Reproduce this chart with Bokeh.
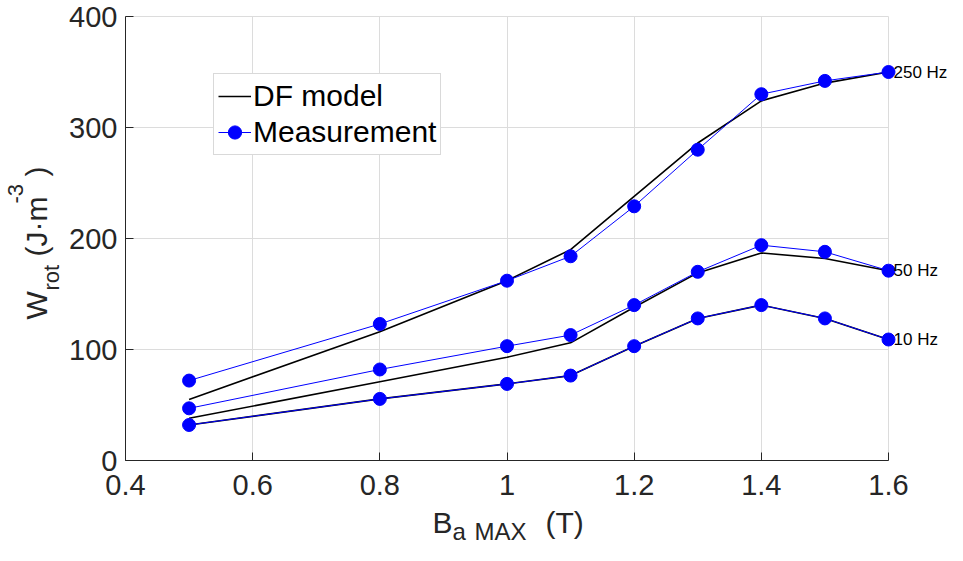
import math
from bokeh.plotting import figure
from bokeh.models import (FixedTicker, Label, LabelSet, Legend, LegendItem, ColumnDataSource)
from bokeh.core.properties import value
from bokeh.embed import file_html
from bokeh.resources import INLINE

# ---- data ----
b_max = [0.5, 0.8, 1.0, 1.1, 1.2, 1.3, 1.4, 1.5, 1.6]
meas_250 = [72, 123, 162, 184, 229, 280, 330, 342, 350]
model_250 = [55, 116, 162, 190, 238, 286, 324, 340, 350]
meas_50 = [47, 82, 103, 113, 140, 170, 194, 188, 171]
model_50 = [38, 71, 93, 106, 138, 169, 187, 182, 171]
meas_10 = [32, 55.5, 69, 76.5, 103, 128, 140, 128, 109]
model_10 = [32, 55.5, 69, 76.5, 103, 128, 140, 128, 109]
freq_labels = ["250 Hz", "50 Hz", "10 Hz"]
x_ticks = [0.4, 0.6, 0.8, 1.0, 1.2, 1.4, 1.6]
x_tick_labels = ["0.4", "0.6", "0.8", "1", "1.2", "1.4", "1.6"]
y_ticks = [0, 100, 200, 300, 400]

FONT = "Liberation Sans"
AX = "#262626"

W, H = 947, 545
# plot box in canvas pixels
BOX_L, BOX_R, BOX_T, BOX_B = 125, 888, 16, 460
XMIN, XMAX, YMIN, YMAX = x_ticks[0], x_ticks[-1], y_ticks[0], y_ticks[-1]
sx = (BOX_R - BOX_L) / (XMAX - XMIN)
sy = (BOX_B - BOX_T) / (YMAX - YMIN)
x_range = (XMIN - BOX_L / sx, XMAX + (W - BOX_R) / sx)
y_range = (YMIN - (H - BOX_B) / sy, YMAX + BOX_T / sy)

p = figure(width=W, height=H, output_backend="svg", toolbar_location=None,
           x_range=x_range, y_range=y_range, min_border=0)
p.outline_line_color = None
p.background_fill_color = "white"
p.border_fill_color = "white"

for ax in (p.xaxis[0], p.yaxis[0]):
    ax.axis_line_color = AX
    ax.axis_line_width = 1
    ax.major_tick_line_color = AX
    ax.major_tick_in = 8
    ax.major_tick_out = 0
    ax.minor_tick_line_color = None
    ax.major_label_text_font = FONT
    ax.major_label_text_font_size = "29px"
    ax.major_label_text_color = AX
    ax.major_label_text_font_style = "normal"

p.xaxis.fixed_location = YMIN
p.xaxis.bounds = (XMIN, XMAX)
p.xaxis.ticker = FixedTicker(ticks=x_ticks)
p.xaxis.major_label_overrides = {t: l for t, l in zip(x_ticks, x_tick_labels)}
p.xaxis.major_label_standoff = 14
p.yaxis.fixed_location = XMIN
p.yaxis.bounds = (YMIN, YMAX)
p.yaxis.ticker = FixedTicker(ticks=y_ticks)
p.yaxis.major_label_standoff = 8

p.xgrid.grid_line_color = "#dcdcdc"
p.ygrid.grid_line_color = "#dcdcdc"
p.xgrid.ticker = FixedTicker(ticks=x_ticks)
p.ygrid.ticker = FixedTicker(ticks=y_ticks)
p.xgrid.cross_bounds = (YMIN, YMAX)
p.ygrid.cross_bounds = (XMIN, XMAX)

model_renderers = []
meas_renderers = []
for model in (model_250, model_50, model_10):
    r = p.line(b_max, model, line_color="black", line_width=1.6)
    model_renderers.append(r)
for meas in (meas_250, meas_50, meas_10):
    rl = p.line(b_max, meas, line_color="#0000ff", line_width=1)
    rs = p.scatter(b_max, meas, marker="circle", size=13, fill_color="#0000ff", line_color="#0000ff")
    meas_renderers.append((rl, rs))

# frequency labels at right
src = ColumnDataSource(dict(x=[b_max[-1]] * 3,
                            y=[meas_250[-1], meas_50[-1], meas_10[-1]],
                            t=freq_labels))
p.add_layout(LabelSet(x="x", y="y", text="t", source=src, x_offset=5,
                      text_baseline="middle", text_align="left", text_font=value(FONT),
                      text_font_size="17px", text_color="black"))

legend = Legend(items=[
    LegendItem(label="DF model", renderers=[model_renderers[0]]),
    LegendItem(label="Measurement", renderers=[meas_renderers[0][0], meas_renderers[0][1]]),
], location=(213, H - 155))
legend.label_text_font = FONT
legend.label_text_font_size = "30px"
legend.label_text_color = "black"
legend.glyph_width = 33
legend.glyph_height = 36
legend.label_standoff = 2
legend.padding = 4
legend.spacing = 0
legend.margin = 0
legend.border_line_color = "#b4b4b4"
legend.border_line_width = 1
legend.background_fill_alpha = 1
p.add_layout(legend)

# axis titles built from text pieces; positions given as (baseline, start) in canvas px
def lab(text, x, y_top, size, angle=0.0):
    sz = float(size.replace("px", ""))
    shift = 0.35 * sz  # baseline -> em-box middle
    if angle:
        x = x - shift
    else:
        y_top = y_top - shift
    p.add_layout(Label(text=text, x=x, y=H - y_top, x_units="screen", y_units="screen",
                       angle=angle, text_font=FONT, text_font_size=size,
                       text_color=AX, text_baseline="middle", text_align="left"))

ang = math.pi / 2
lab("W", 46, 319, "30px", ang)
lab("rot", 59, 290, "22px", ang)
lab("(J·m", 46, 256, "30px", ang)
lab("-3", 23, 203, "22px", ang)
lab(")", 46, 176, "30px", ang)

lab("B", 432, 532, "30px")
lab("a", 452, 539, "24px")
lab("MAX", 474, 539, "24px")
lab("(T)", 545, 532, "30px")

open("out.html", "w").write(file_html(p, INLINE))
